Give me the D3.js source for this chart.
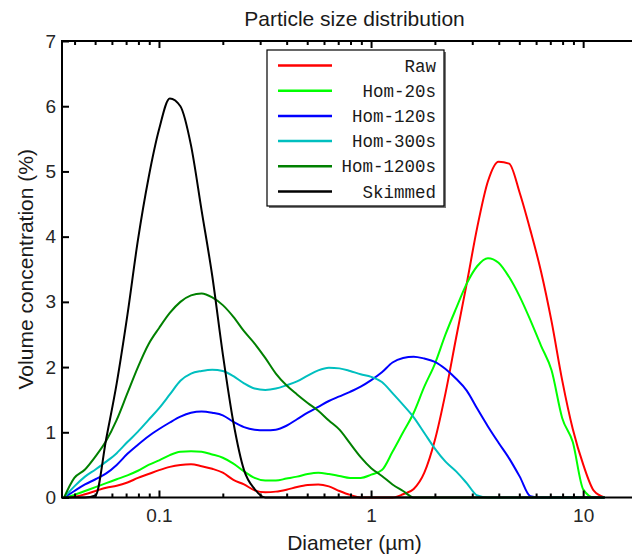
<!DOCTYPE html>
<html>
<head>
<meta charset="utf-8">
<script src="https://cdn.jsdelivr.net/npm/d3@7"></script>
<style>
  body { margin: 0; background: #fff; }
  svg { display: block; }
  .tick text { font-family: "Liberation Sans", Arial, sans-serif; font-size: 19px; fill: #262626; }
</style>
</head>
<body>
<svg width="632" height="556"></svg>
<script>
// bin diameters (um)
var diameters = [0.0357,0.0399,0.0448,0.0502,0.0564,0.0632,0.0710,0.0796,0.0893,0.1002,
  0.1125,0.1262,0.1416,0.1589,0.1783,0.2000,0.2244,0.2518,0.2825,0.3170,
  0.3557,0.3991,0.4477,0.5024,0.5637,0.6325,0.7096,0.7962,0.8934,1.002,
  1.125,1.262,1.416,1.589,1.783,2.000,2.244,2.518,2.825,3.170,
  3.557,3.991,4.477,5.024,5.637,6.325,7.096,7.962,8.934,10.02,
  11.25,12.62];

var raw = [0,0.01,0.05,0.10,0.15,0.18,0.23,0.30,0.36,0.42,
  0.47,0.50,0.51,0.48,0.44,0.38,0.27,0.20,0.11,0.08,
  0.09,0.12,0.16,0.19,0.20,0.17,0.10,0.04,0,0,
  0,0,0.05,0.13,0.38,0.88,1.60,2.45,3.28,4.15,
  4.85,5.15,5.12,4.67,4.10,3.47,2.70,1.80,1.05,0.50,
  0.10,0];

var hom20 = [0,0.04,0.10,0.16,0.22,0.28,0.34,0.41,0.50,0.57,
  0.65,0.70,0.71,0.70,0.66,0.61,0.52,0.40,0.30,0.26,
  0.26,0.29,0.32,0.36,0.38,0.36,0.33,0.30,0.30,0.35,
  0.42,0.70,1.00,1.30,1.70,2.05,2.50,2.90,3.28,3.55,
  3.67,3.60,3.38,3.08,2.72,2.33,1.95,1.22,0.85,0.12,
  0,0];

var hom120 = [0,0.10,0.20,0.28,0.37,0.50,0.67,0.81,0.94,1.05,
  1.15,1.24,1.30,1.32,1.30,1.26,1.16,1.08,1.04,1.03,
  1.04,1.10,1.20,1.30,1.39,1.48,1.55,1.62,1.70,1.80,
  1.92,2.07,2.14,2.16,2.13,2.08,1.97,1.82,1.64,1.36,
  1.09,0.84,0.60,0.32,0.02,0,0,0,0,0,
  0,0];

var hom300 = [0,0.17,0.32,0.43,0.55,0.68,0.85,1.01,1.19,1.37,
  1.58,1.79,1.90,1.94,1.96,1.94,1.86,1.75,1.67,1.65,
  1.67,1.72,1.78,1.87,1.95,1.99,1.98,1.94,1.89,1.85,
  1.77,1.60,1.42,1.23,0.99,0.75,0.55,0.40,0.22,0.03,
  0,0,0,0,0,0,0,0,0,0,
  0,0];

var hom1200 = [0,0.30,0.43,0.63,0.87,1.19,1.60,2.00,2.35,2.60,
  2.83,3.00,3.10,3.13,3.07,2.95,2.77,2.55,2.36,2.14,
  1.90,1.72,1.58,1.45,1.33,1.18,1.04,0.83,0.62,0.45,
  0.33,0.20,0.10,0,0,0,0,0,0,0,
  0,0,0,0,0,0,0,0,0,0,
  0,0];

var skimmed = [0,0,0,0.03,0.90,1.75,2.80,3.95,4.90,5.65,
  6.12,6.00,5.40,4.40,3.40,2.20,1.15,0.42,0.13,0,
  0,0,0,0,0,0,0,0,0,0,
  0,0,0,0,0,0,0,0,0,0,
  0,0,0,0,0,0,0,0,0,0,
  0,0];

var seriesNames = ["Raw", "Hom-20s", "Hom-120s", "Hom-300s", "Hom-1200s", "Skimmed"];
var seriesColors = ["#ff0000", "#00ff00", "#0000ff", "#00bfbf", "#008000", "#000000"];
var seriesValues = [raw, hom20, hom120, hom300, hom1200, skimmed];

var xMajor = [0.1, 1, 10];
var xMajorLabels = ["0.1", "1", "10"];
var xMinor = [0.04,0.05,0.06,0.07,0.08,0.09,0.2,0.3,0.4,0.5,0.6,0.7,0.8,0.9,2,3,4,5,6,7,8,9];
var yTicks = [0, 1, 2, 3, 4, 5, 6, 7];

var svg = d3.select("svg"),
    plotL = 62, plotT = 41, plotR = 647, plotB = 497.5;

var x = d3.scaleLog().domain([0.0349, 20]).range([plotL, plotR]);
var y = d3.scaleLinear().domain([0, 7]).range([plotB, plotT]);

var line = d3.line()
  .x(function (d) { return x(d[0]); })
  .y(function (d) { return y(d[1]); })
  .curve(d3.curveMonotoneX);

// curves
seriesValues.forEach(function (vals, i) {
  var pts = diameters.map(function (dm, j) { return [dm, vals[j]]; });
  svg.append("path").datum(pts)
    .attr("fill", "none")
    .attr("stroke", seriesColors[i])
    .attr("stroke-width", 2)
    .attr("stroke-linejoin", "round")
    .attr("d", line);
});

// axes (ticks point inward)
function styleAxis(g) {
  g.select(".domain").remove();
  g.selectAll(".tick line").attr("stroke", "#000").attr("stroke-width", 2);
}

svg.append("g").attr("transform", "translate(0," + plotB + ")")
  .call(d3.axisBottom(x).tickValues(xMajor).tickSize(-7).tickPadding(11)
    .tickFormat(function (d, i) { return xMajorLabels[i]; }))
  .call(styleAxis);
svg.append("g").attr("transform", "translate(0," + plotB + ")")
  .call(d3.axisBottom(x).tickValues(xMinor).tickSize(-4).tickFormat(""))
  .call(styleAxis);
svg.append("g").attr("transform", "translate(0," + plotT + ")")
  .call(d3.axisTop(x).tickValues(xMajor).tickSize(-7).tickFormat(""))
  .call(styleAxis);
svg.append("g").attr("transform", "translate(0," + plotT + ")")
  .call(d3.axisTop(x).tickValues(xMinor).tickSize(-4).tickFormat(""))
  .call(styleAxis);
svg.append("g").attr("transform", "translate(" + plotL + ",0)")
  .call(d3.axisLeft(y).tickValues(yTicks).tickSize(-7).tickPadding(6).tickFormat(d3.format("d")))
  .call(styleAxis);

svg.append("rect")
  .attr("x", plotL).attr("y", plotT)
  .attr("width", plotR - plotL).attr("height", plotB - plotT)
  .attr("fill", "none").attr("stroke", "#000").attr("stroke-width", 2);

// titles
svg.append("text")
  .attr("x", (plotL + plotR) / 2).attr("y", 26)
  .attr("text-anchor", "middle")
  .style("font-family", "Liberation Sans, Arial, sans-serif").style("font-size", "21px").style("fill", "#1a1a1a")
  .text("Particle size distribution");

svg.append("text")
  .attr("x", (plotL + plotR) / 2).attr("y", 550)
  .attr("text-anchor", "middle")
  .style("font-family", "Liberation Sans, Arial, sans-serif").style("font-size", "21px").style("fill", "#1a1a1a")
  .text("Diameter (\u00b5m)");

svg.append("text")
  .attr("transform", "translate(33," + (plotT + plotB) / 2 + ") rotate(-90)")
  .attr("text-anchor", "middle")
  .style("font-family", "Liberation Sans, Arial, sans-serif").style("font-size", "21px").style("fill", "#1a1a1a")
  .text("Volume concentration (%)");

// legend
var lg = svg.append("g");
lg.append("rect").attr("x", 269).attr("y", 52).attr("width", 177).attr("height", 156).attr("fill", "#777");
lg.append("rect").attr("x", 267).attr("y", 50).attr("width", 177).attr("height", 156)
  .attr("fill", "#fff").attr("stroke", "#000").attr("stroke-width", 1.2);

var rows = lg.selectAll(".row").data(seriesNames).enter().append("g")
  .attr("class", "row")
  .attr("transform", function (d, i) { return "translate(0," + (65.5 + i * 25.2) + ")"; });
rows.append("line").attr("x1", 278).attr("x2", 332)
  .attr("stroke", function (d, i) { return seriesColors[i]; })
  .attr("stroke-width", 2.5);
rows.append("text").attr("x", 436).attr("dy", "0.35em")
  .attr("text-anchor", "end")
  .style("font-family", "Liberation Mono, Courier New, monospace").style("font-size", "17.5px").style("fill", "#1a1a1a")
  .text(function (d) { return d; });
</script>
</body>
</html>
